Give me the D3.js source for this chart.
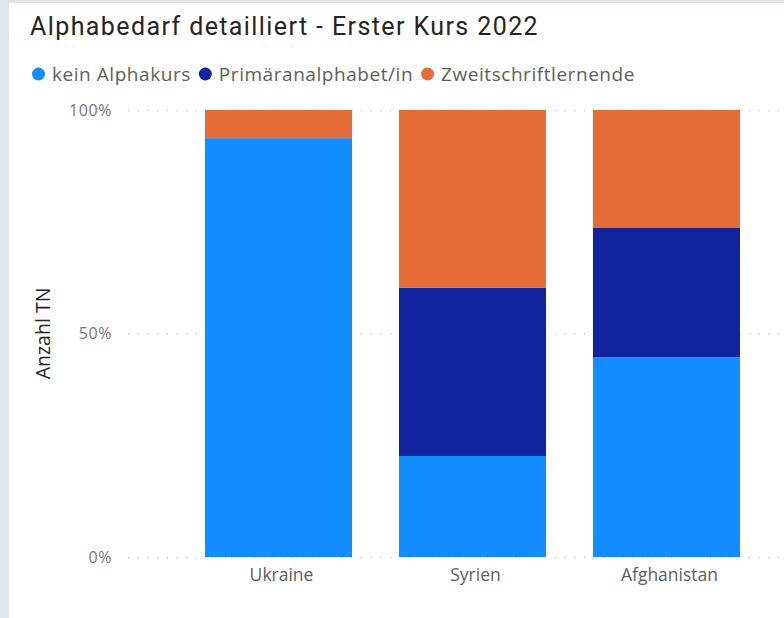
<!DOCTYPE html>
<html>
<head>
<meta charset="utf-8">
<script src="https://cdn.jsdelivr.net/npm/d3@7"></script>
<style>
  body { margin: 0; background: #e1e4e8; }
  svg { display: block; }
</style>
</head>
<body>
<div id="chart"></div>
<script>
"use strict";

const chtWidth = 784,
  chtHeight = 618;

// Data (shares per country)
const countries = ["Ukraine", "Syrien", "Afghanistan"];
const seriesNames = ["kein Alphakurs", "Primäranalphabet/in", "Zweitschriftlernende"];
const keinAlphakurs = [0.937, 0.226, 0.447];
const primaer = [0, 0.376, 0.289];
const zweitschrift = [0.063, 0.398, 0.264];
const yTicks = [0, 0.5, 1];

const colours = ["#118dff", "#12239e", "#e66c37"];

const margin = { top: 110, right: -33, bottom: 61, left: 128 };

const tableData = countries.map((c, i) => ({
  country: c,
  "kein Alphakurs": keinAlphakurs[i],
  "Primäranalphabet/in": primaer[i],
  Zweitschriftlernende: zweitschrift[i],
}));

const stacked = d3.stack().keys(seriesNames)(tableData);

const svg = d3
  .select("#chart")
  .append("svg")
  .attr("width", chtWidth)
  .attr("height", chtHeight);

// white card
svg
  .append("rect")
  .attr("x", 9)
  .attr("y", 3)
  .attr("width", chtWidth - 9)
  .attr("height", chtHeight - 3)
  .attr("fill", "#ffffff");

const x = d3
  .scaleBand()
  .domain(countries)
  .range([margin.left, chtWidth - margin.right])
  .paddingInner(0.242)
  .paddingOuter(0.397);

const y = d3
  .scaleLinear()
  .domain([0, 1])
  .range([chtHeight - margin.bottom, margin.top]);

const formatPercent = d3.format(".0%");

// gridlines + y labels
const yAxis = svg
  .append("g")
  .attr("transform", `translate(${margin.left},0)`)
  .call(
    d3
      .axisLeft(y)
      .tickValues(yTicks)
      .tickFormat(formatPercent)
      .tickSize(-(chtWidth - margin.left + 40))
      .tickPadding(16)
  );
yAxis.select(".domain").remove();
yAxis
  .selectAll(".tick line")
  .attr("stroke", "#c8c6c4")
  .attr("stroke-dasharray", "1.2,8.5")
  .attr("stroke-width", 1.3);
yAxis
  .selectAll(".tick text")
  .attr("fill", "#777777")
  .attr("font-family", "'Open Sans', sans-serif")
  .attr("font-size", 16)
  .attr("letter-spacing", 0.6);

// bars
svg
  .append("g")
  .selectAll("g")
  .data(stacked)
  .join("g")
  .attr("fill", (d, i) => colours[i])
  .selectAll("rect")
  .data((d) => d)
  .join("rect")
  .attr("x", (d) => x(d.data.country))
  .attr("y", (d) => y(d[1]))
  .attr("width", x.bandwidth())
  .attr("height", (d) => y(d[0]) - y(d[1]));

// x labels
const xAxis = svg
  .append("g")
  .attr("transform", `translate(0,${chtHeight - margin.bottom})`)
  .call(d3.axisBottom(x).tickSize(0).tickPadding(12));
xAxis.select(".domain").remove();
xAxis
  .selectAll(".tick text")
  .attr("fill", "#605e5c")
  .attr("font-family", "'Open Sans', sans-serif")
  .attr("font-size", 17.5)
  .attr("dx", 3);

// y axis title
svg
  .append("text")
  .attr("transform", `translate(50,${(y(0) + y(1)) / 2}) rotate(-90)`)
  .attr("text-anchor", "middle")
  .attr("fill", "#252423")
  .attr("font-family", "'Open Sans', sans-serif")
  .attr("font-size", 19.5)
  .text("Anzahl TN");

// title
svg
  .append("text")
  .attr("x", 30)
  .attr("y", 35)
  .attr("fill", "#252423")
  .attr("font-family", "Roboto, sans-serif")
  .attr("font-size", 25)
  .attr("letter-spacing", 1.4)
  .text("Alphabedarf detailliert - Erster Kurs 2022");

// legend
const legend = svg.append("g").attr("transform", "translate(32,74)");
let lx = 0;
seriesNames.forEach((name, i) => {
  const item = legend.append("g").attr("transform", `translate(${lx},0)`);
  item
    .append("circle")
    .attr("cx", 6.5)
    .attr("cy", 0)
    .attr("r", 6.5)
    .attr("fill", colours[i]);
  const t = item
    .append("text")
    .attr("x", 20)
    .attr("y", 6.5)
    .attr("fill", "#605e5c")
    .attr("font-family", "'Open Sans', sans-serif")
    .attr("font-size", 19)
    .attr("letter-spacing", 0.55)
    .text(name);
  lx += 20 + t.node().getComputedTextLength() + 8;
});
</script>
</body>
</html>
